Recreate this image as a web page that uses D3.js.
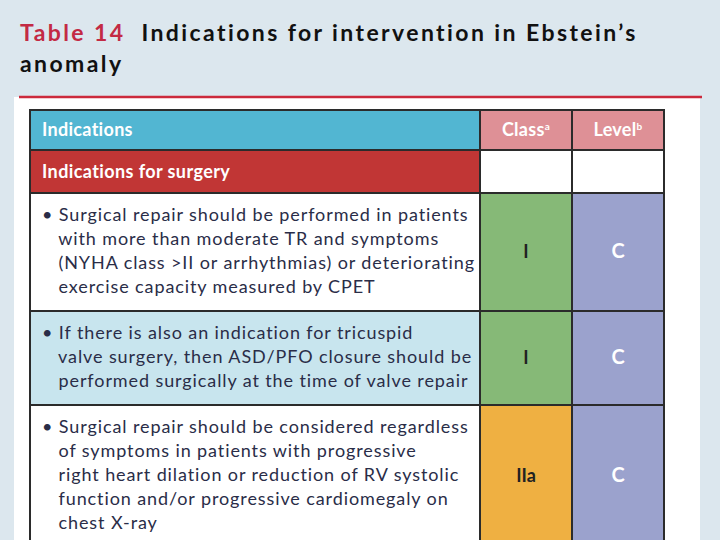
<!DOCTYPE html>
<html><head><meta charset="utf-8">
<script src="https://cdn.jsdelivr.net/npm/d3@7"></script>
<style>body{margin:0;background:#dce7ee;}</style>
</head><body>
<script>
const headers = ["Indications", "Class", "Level"];
const headerSup = ["", "a", "b"];
const section = "Indications for surgery";
const indications = [
  ["• Surgical repair should be performed in patients", "   with more than moderate TR and symptoms", "   (NYHA class >II or arrhythmias) or deteriorating", "   exercise capacity measured by CPET"],
  ["• If there is also an indication for tricuspid", "   valve surgery, then ASD/PFO closure should be", "   performed surgically at the time of valve repair"],
  ["• Surgical repair should be considered regardless", "   of symptoms in patients with progressive", "   right heart dilation or reduction of RV systolic", "   function and/or progressive cardiomegaly on", "   chest X-ray"]
];
const classes = ["I", "I", "IIa"];
const levels = ["C", "C", "C"];
const rowBg = ["#ffffff", "#c8e5ee", "#ffffff"];
const classColor = {"I": "#86b977", "IIa": "#efb042"};

const svg = d3.select("body").append("svg").attr("width", 720).attr("height", 540);
const font = "Lato, 'Open Sans', sans-serif";

svg.append("rect").attr("x", 14).attr("y", 97).attr("width", 686).attr("height", 450).attr("fill", "#fff");
svg.append("line").attr("x1", 19).attr("x2", 702).attr("y1", 97).attr("y2", 97).attr("stroke", "#cc2a3c").attr("stroke-width", 2.5);

const title = svg.append("text").attr("x", 20).attr("y", 41).attr("font-family", font).attr("font-size", 23)
  .attr("font-weight", "bold").attr("letter-spacing", 2.4);
title.append("tspan").attr("fill", "#c32a44").text("Table 14");
title.append("tspan").attr("fill", "#111").attr("dx", 16).text("Indications for intervention in Ebstein’s");
svg.append("text").attr("x", 20).attr("y", 72).attr("font-family", font).attr("font-size", 23).attr("letter-spacing", 2.4)
  .attr("font-weight", "bold").attr("fill", "#111").text("anomaly");

const x = d3.scaleOrdinal().domain([0, 1, 2, 3]).range([30, 480, 572, 664]);
const rowY = [110, 150, 193, 311, 405, 560];
const stroke = "#2b2b2b";

// header row
const hFill = ["#52b6d2", "#de9096", "#de9096"];
headers.forEach((h, i) => {
  svg.append("rect").attr("x", x(i)).attr("y", rowY[0]).attr("width", x(i + 1) - x(i)).attr("height", rowY[1] - rowY[0])
    .attr("fill", hFill[i]).attr("stroke", stroke).attr("stroke-width", 2);
  const t = svg.append("text").attr("x", i === 0 ? x(i) + 12 : (x(i) + x(i + 1)) / 2).attr("y", 136)
    .attr("text-anchor", i === 0 ? "start" : "middle").attr("fill", "#fff").attr("font-family", font)
    .attr("font-size", 18).attr("font-weight", "bold").attr("letter-spacing", 0.3).text(h);
  if (headerSup[i]) t.append("tspan").attr("font-size", 10).attr("dy", -6).text(headerSup[i]);
});

// section row
[0, 1, 2].forEach(i => {
  svg.append("rect").attr("x", x(i)).attr("y", rowY[1]).attr("width", x(i + 1) - x(i)).attr("height", rowY[2] - rowY[1])
    .attr("fill", i === 0 ? "#c13635" : "#fff").attr("stroke", stroke).attr("stroke-width", 2);
});
svg.append("text").attr("x", 42).attr("y", 178).attr("fill", "#fff").attr("font-family", font)
  .attr("font-size", 18).attr("font-weight", "bold").attr("letter-spacing", 0.4).text(section);

// body rows
indications.forEach((lines, r) => {
  const y0 = rowY[r + 2], y1 = rowY[r + 3];
  const fills = [rowBg[r], classColor[classes[r]], "#9ba2cd"];
  fills.forEach((f, i) => {
    svg.append("rect").attr("x", x(i)).attr("y", y0).attr("width", x(i + 1) - x(i)).attr("height", y1 - y0)
      .attr("fill", f).attr("stroke", stroke).attr("stroke-width", 2);
  });
  const t = svg.append("text").attr("font-family", font).attr("font-size", 18).attr("fill", "#2a2d48")
    .attr("letter-spacing", 0.9).attr("xml:space", "preserve");
  lines.forEach((l, k) => t.append("tspan").attr("x", 42).attr("y", y0 + 28 + k * 24).text(l));
  const mid = r === 2 ? 482 : (y0 + y1) / 2 + 6;
  svg.append("text").attr("x", (x(1) + x(2)) / 2).attr("y", mid).attr("text-anchor", "middle")
    .attr("font-family", font).attr("font-size", 18).attr("font-weight", "bold").attr("fill", "#222").text(classes[r]);
  svg.append("text").attr("x", (x(2) + x(3)) / 2).attr("y", mid).attr("text-anchor", "middle")
    .attr("font-family", font).attr("font-size", 20).attr("font-weight", "bold").attr("fill", "#fff").text(levels[r]);
});
</script>
</body></html>
